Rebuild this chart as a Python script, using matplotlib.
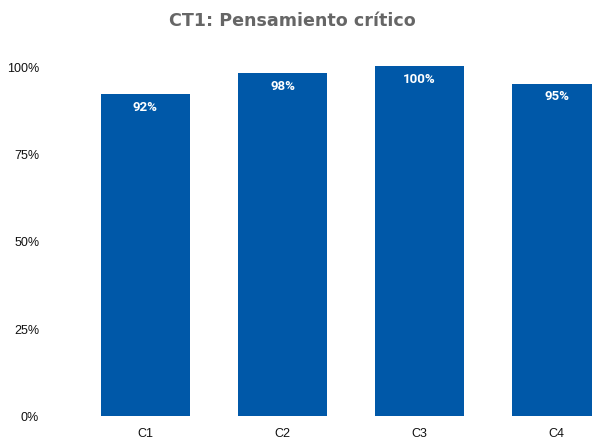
import matplotlib
matplotlib.use("Agg")
import matplotlib.pyplot as plt
from matplotlib.ticker import PercentFormatter

# datos
categorias = ["C1", "C2", "C3", "C4"]
valores = [0.92, 0.98, 1.00, 0.95]
etiquetas = ["92%", "98%", "100%", "95%"]
titulo = "CT1: Pensamiento crítico"

azul = "#0058A8"

fig = plt.figure(figsize=(5.92, 4.39), dpi=100)
ax = fig.add_axes([60 / 592, 22 / 439, 1 - 60 / 592, 350 / 439])

x = range(len(categorias))
barras = ax.bar(x, valores, width=0.65, color=azul)

for b, txt in zip(barras, etiquetas):
    ax.annotate(txt, (b.get_x() + b.get_width() / 2, b.get_height()),
                xytext=(0, -9), textcoords="offset points",
                ha="center", va="center", color="white",
                fontsize=9.5, fontweight="bold", family="Roboto")

ax.set_xlim(-0.624, 3.259)
ax.set_ylim(0, 1)
ax.set_yticks([0, 0.25, 0.5, 0.75, 1.0])
ax.yaxis.set_major_formatter(PercentFormatter(1.0, decimals=0))
ax.set_xticks(list(x))
ax.set_xticklabels(categorias)

for s in ax.spines.values():
    s.set_visible(False)
ax.tick_params(axis="both", length=0, labelsize=9, labelcolor="#111111")
ax.tick_params(axis="y", pad=15)
ax.tick_params(axis="x", pad=8)
for lab in ax.get_xticklabels() + ax.get_yticklabels():
    lab.set_family("Liberation Sans")

fig.text(0.494, 0.953, titulo, ha="center", va="center",
         fontsize=12.6, fontweight="bold", color="#666666", family="DejaVu Sans")

fig.savefig("out.png", dpi=100)
